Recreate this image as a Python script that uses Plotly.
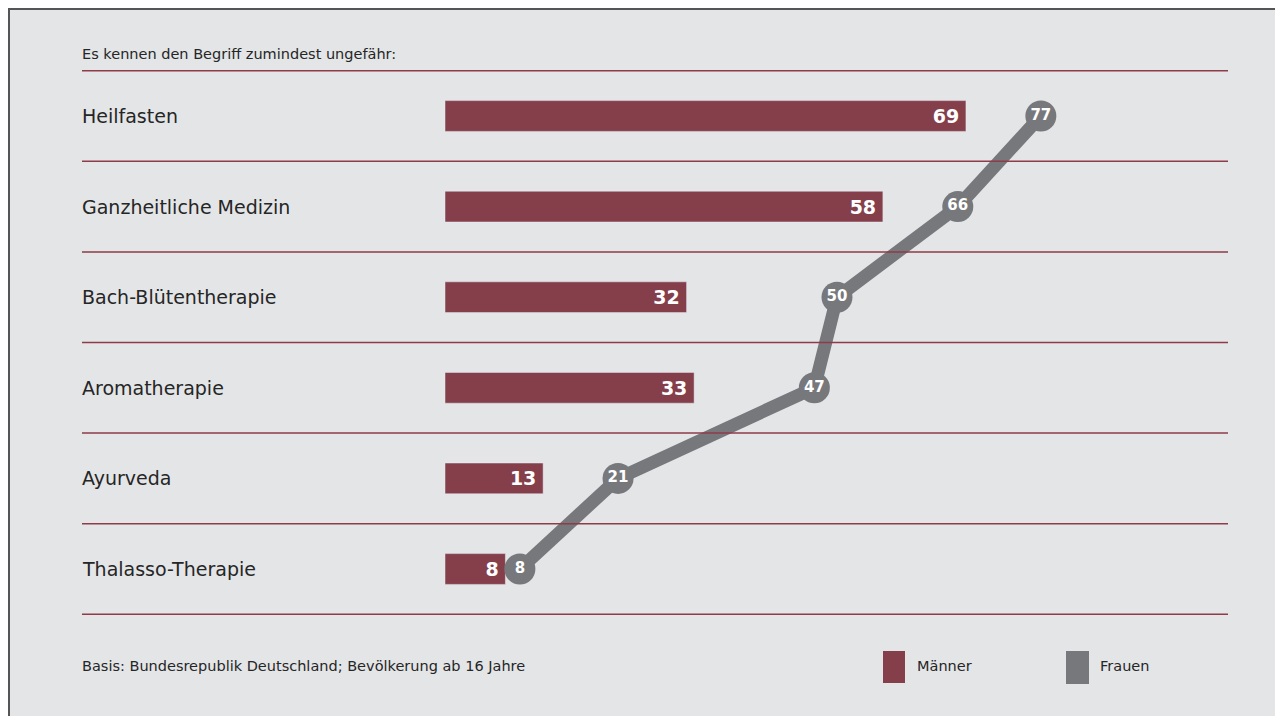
import plotly.graph_objects as go

categories = ["Heilfasten", "Ganzheitliche Medizin", "Bach-Blütentherapie",
              "Aromatherapie", "Ayurveda", "Thalasso-Therapie"]
maenner = [69, 58, 32, 33, 13, 8]
frauen = [77, 66, 50, 47, 21, 8]
subtitle = "Es kennen den Begriff zumindest ungefähr:"
footnote = "Basis: Bundesrepublik Deutschland; Bevölkerung ab 16 Jahre"
legend_names = ["Männer", "Frauen"]

W, H = 1283, 716
BAR = "#843f4b"
GREY = "#77787c"
BG = "#e4e5e7"
RULE = "#8e3b4a"
TXT = "#262626"
FONT = "DejaVu Sans"

idx = list(range(len(categories)))
px_per = 7.55
x0_bar = 437
x0_line = 451.5
row0, row_h = 108, 90.6

fig = go.Figure()
fig.add_trace(go.Bar(
    x=maenner, y=idx, orientation="h", marker_color=BAR, width=0.34,
    text=[str(v) + "\u2009" for v in maenner], textposition="inside", insidetextanchor="end",
    textangle=0, constraintext="none",
    textfont=dict(family=FONT, size=19, color="white", weight="bold"),
    showlegend=False, hoverinfo="skip"))
fig.add_trace(go.Scatter(
    x=frauen, y=idx, xaxis="x2", mode="lines+markers+text",
    line=dict(color=GREY, width=13),
    marker=dict(size=31, color=GREY),
    text=[str(v) for v in frauen], textposition="middle center",
    textfont=dict(family=FONT, size=15, color="white", weight="bold"),
    showlegend=False, hoverinfo="skip"))

shapes = [dict(type="rect", xref="paper", yref="paper", x0=1/W, x1=1.0, y0=0, y1=1-1/H,
               line=dict(color="#555555", width=2), layer="below")]
for i in range(len(categories) + 1):
    shapes.append(dict(type="line", xref="paper", yref="y", x0=74/W, x1=1220/W,
                       y0=i - 0.5, y1=i - 0.5, line=dict(color=RULE, width=1.5)))
# legend swatches
shapes.append(dict(type="rect", xref="paper", yref="paper", x0=875/W, x1=897/W,
                   y0=1-675/H, y1=1-643/H, fillcolor=BAR, line_width=0))
shapes.append(dict(type="rect", xref="paper", yref="paper", x0=1058/W, x1=1081/W,
                   y0=1-676/H, y1=1-643/H, fillcolor=GREY, line_width=0))

ann = []
for i, c in enumerate(categories):
    ann.append(dict(x=72/W, xref="paper", y=i, yref="y", text=c, showarrow=False,
                    xanchor="left", yanchor="middle",
                    font=dict(family=FONT, size=19, color=TXT)))
small = dict(family=FONT, size=14.5, color=TXT)
ann.append(dict(x=72/W, xref="paper", y=1-46/H, yref="paper", text=subtitle, showarrow=False,
                xanchor="left", yanchor="middle", font=small))
ann.append(dict(x=72/W, xref="paper", y=1-658/H, yref="paper", text=footnote, showarrow=False,
                xanchor="left", yanchor="middle", font=small))
ann.append(dict(x=907/W, xref="paper", y=1-658/H, yref="paper", text=legend_names[0], showarrow=False,
                xanchor="left", yanchor="middle", font=small))
ann.append(dict(x=1090/W, xref="paper", y=1-658/H, yref="paper", text=legend_names[1], showarrow=False,
                xanchor="left", yanchor="middle", font=small))

fig.update_layout(
    width=W, height=H, margin=dict(l=0, r=0, t=0, b=0),
    paper_bgcolor=BG, plot_bgcolor="rgba(0,0,0,0)",
    xaxis=dict(range=[-x0_bar/px_per, (W - x0_bar)/px_per], visible=False, fixedrange=True),
    xaxis2=dict(range=[-x0_line/px_per, (W - x0_line)/px_per], visible=False,
                overlaying="x", fixedrange=True),
    yaxis=dict(range=[(H - row0)/row_h, -row0/row_h], visible=False, fixedrange=True),
    shapes=shapes, annotations=ann, showlegend=False,
)
fig.write_html("out.html")
